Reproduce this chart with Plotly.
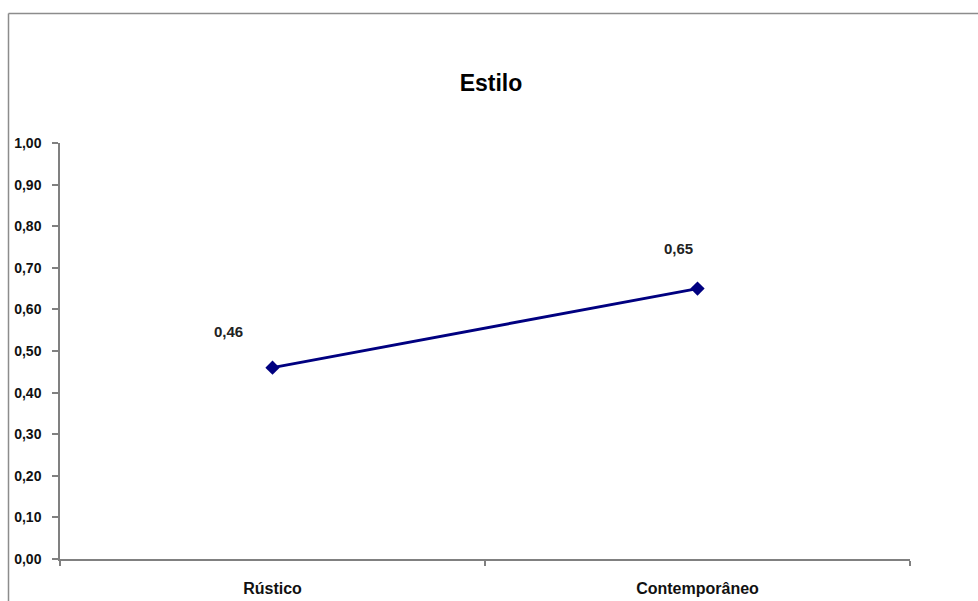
import plotly.graph_objects as go

# Data
categories = ["Rústico", "Contemporâneo"]
values = [0.46, 0.65]
label_texts = ["0,46", "0,65"]

# label offsets (px) relative to each point
label_dx = [-44, -19]
label_dy = [36, 40]

W, H = 978, 601
ML, MR, MT, MB = 60, 68, 143, 42
PW = W - ML - MR
PH = H - MT - MB
FONT = "Liberation Sans, Arial"

fig = go.Figure()
fig.add_trace(go.Scatter(
    x=categories, y=values, mode="lines+markers",
    line=dict(color="#000080", width=3),
    marker=dict(symbol="diamond", size=11, color="#000080"),
    hoverinfo="skip", showlegend=False,
))

# value labels above-left of each point
for c, v, t, dx, dy in zip(categories, values, label_texts, label_dx, label_dy):
    fig.add_annotation(
        x=c, y=v, text=f"<b>{t}</b>", showarrow=False,
        xshift=dx, yshift=dy,
        font=dict(family=FONT, size=15, color="#222222"),
    )

# outer chart border (top and left edges)
def px_x(px):
    return (px - ML) / PW

def px_y(py):
    return 1 - (py - MT) / PH

border = dict(color="#8c8c8c", width=1.5)
fig.add_shape(type="line", xref="paper", yref="paper",
              x0=px_x(8.5), x1=px_x(W + 5), y0=px_y(13.5), y1=px_y(13.5), line=border)
fig.add_shape(type="line", xref="paper", yref="paper",
              x0=px_x(8.5), x1=px_x(8.5), y0=px_y(13.5), y1=px_y(H + 5), line=border)

fig.update_layout(
    width=W, height=H,
    margin=dict(l=ML, r=MR, t=MT, b=MB, autoexpand=False),
    paper_bgcolor="white", plot_bgcolor="white",
    separators=",.",
    title=dict(text="<b>Estilo</b>", x=491 / W, xref="container", xanchor="center",
               y=1 - 83 / H, yref="container", yanchor="middle",
               font=dict(family=FONT, size=23, color="black")),
    font=dict(family=FONT, color="black"),
)

fig.update_xaxes(
    type="category", range=[-0.5, 1.5], tickson="boundaries",
    showline=True, linecolor="#808080", linewidth=1.5,
    ticks="outside", ticklen=5, tickcolor="#808080", tickwidth=1.5,
    showgrid=False, zeroline=False, automargin=False,
    tickfont=dict(family=FONT, size=16, color="#111111"),
    tickprefix="<b>", ticksuffix="</b>",
    ticklabelstandoff=14,
)
fig.update_yaxes(
    range=[0, 1], dtick=0.1, tick0=0, tickformat=".2f",
    showline=True, linecolor="#808080", linewidth=1.5,
    ticks="outside", ticklen=6, tickcolor="#808080", tickwidth=1.5,
    showgrid=False, zeroline=False, automargin=False,
    tickfont=dict(family=FONT, size=14, color="#111111"),
    tickprefix="<b>", ticksuffix="</b>",
    ticklabelstandoff=8,
)

fig.write_html("out.html")
